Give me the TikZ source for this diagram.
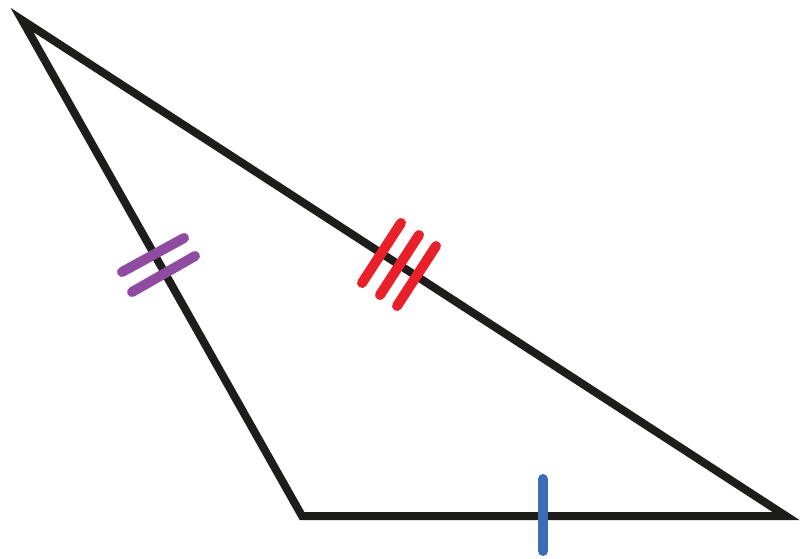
\documentclass[tikz,border=0pt]{standalone}
\definecolor{tri}{HTML}{1D1D1B}
\definecolor{pur}{HTML}{8E4B9F}
\definecolor{rd}{HTML}{E8202A}
\definecolor{bl}{HTML}{3A6DB5}
\tikzset{side/.style={draw=tri,line width=8pt,line join=miter},
tick/.style={line width=10pt,line cap=round}}
\begin{document}
\begin{tikzpicture}[x=1pt,y=-1pt]
\useasboundingbox (0,0) rectangle (800,558);
\coordinate (A) at (22,20);
\coordinate (B) at (302,516);
\coordinate (C) at (786,516);
\draw[side] (A) -- (B) -- (C) -- cycle;
\draw[tick,pur] (122,272) -- (184,238);
\draw[tick,pur] (132,292) -- (195,256);
\draw[tick,rd] (362,283) -- (401,223);
\draw[tick,rd] (380,295) -- (419,235);
\draw[tick,rd] (397,306) -- (436,246);
\draw[tick,bl] (543,479) -- (543,551);
\end{tikzpicture}
\end{document}
